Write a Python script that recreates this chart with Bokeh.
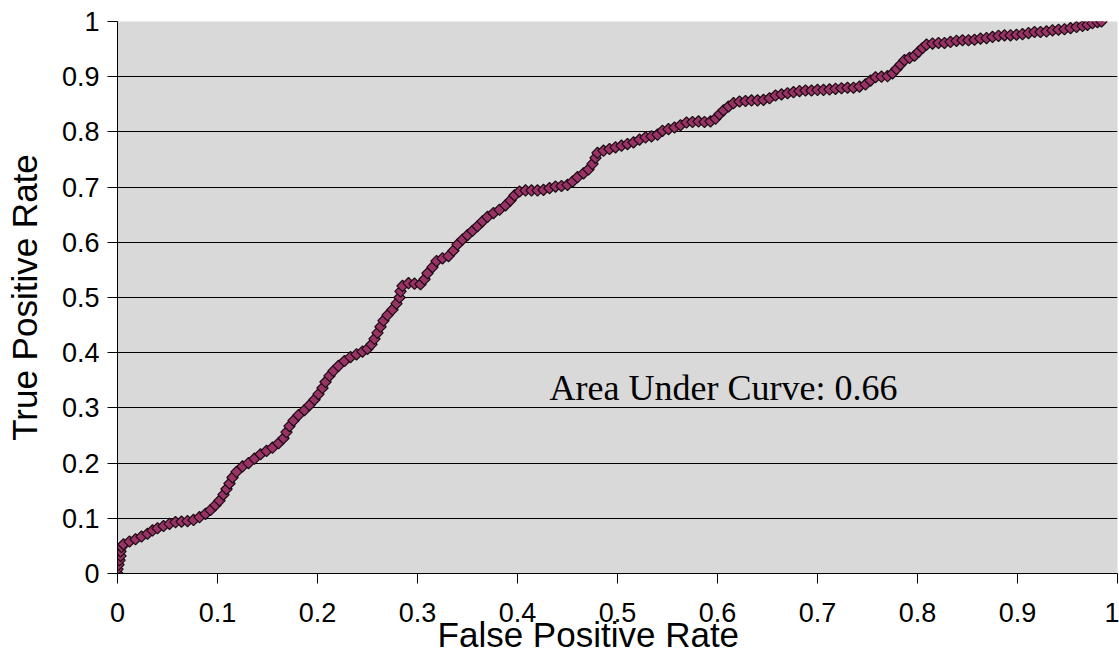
import math
from bokeh.plotting import figure
from bokeh.models import FixedTicker, Label, ColumnDataSource
from bokeh.embed import file_html
from bokeh.resources import INLINE

# ---- data ----
fpr = [0, 0, 0.001, 0.002, 0.003, 0.003, 0.004, 0.006,
       0.012, 0.018, 0.024, 0.03, 0.035, 0.04, 0.046, 0.052, 0.058, 0.064, 0.07, 0.076,
       0.082, 0.088, 0.093, 0.098, 0.102, 0.106, 0.109, 0.112, 0.115, 0.119, 0.125,
       0.131, 0.137, 0.143, 0.149, 0.155, 0.161, 0.166, 0.169, 0.172, 0.176, 0.181,
       0.187, 0.192, 0.197, 0.201, 0.205, 0.208, 0.212, 0.216, 0.221, 0.227, 0.233,
       0.239, 0.245, 0.25, 0.254, 0.257, 0.26, 0.263, 0.266, 0.27, 0.275, 0.279,
       0.282, 0.283, 0.285, 0.291, 0.297, 0.303, 0.307, 0.31, 0.315, 0.319, 0.325,
       0.331, 0.336, 0.34, 0.345, 0.35, 0.355, 0.36, 0.365, 0.37, 0.376, 0.382,
       0.388, 0.393, 0.397, 0.402, 0.408, 0.414, 0.42, 0.426, 0.432, 0.438, 0.444,
       0.45, 0.455, 0.46, 0.466, 0.471, 0.475, 0.478, 0.48, 0.486, 0.492, 0.498,
       0.504, 0.51, 0.516, 0.522, 0.528, 0.534, 0.54, 0.545, 0.551, 0.557, 0.563,
       0.569, 0.575, 0.581, 0.587, 0.593, 0.598, 0.602, 0.606, 0.611, 0.616, 0.622,
       0.628, 0.634, 0.64, 0.646, 0.652, 0.658, 0.664, 0.67, 0.676, 0.682, 0.688,
       0.694, 0.7, 0.706, 0.712, 0.718, 0.724, 0.73, 0.736, 0.742, 0.748, 0.753,
       0.758, 0.764, 0.77, 0.775, 0.779, 0.783, 0.787, 0.792, 0.797, 0.801, 0.805,
       0.809, 0.815, 0.821, 0.827, 0.833, 0.839, 0.845, 0.851, 0.857, 0.863, 0.869,
       0.875, 0.881, 0.887, 0.893, 0.899, 0.905, 0.911, 0.917, 0.923, 0.929, 0.935,
       0.941, 0.947, 0.953, 0.959, 0.965, 0.97, 0.975, 0.98, 0.984]
tpr = [0, 0.008, 0.016, 0.024, 0.032, 0.04, 0.048, 0.053,
       0.058, 0.062, 0.067, 0.072, 0.078, 0.082, 0.086, 0.09, 0.093, 0.094, 0.095, 0.097,
       0.102, 0.108, 0.115, 0.124, 0.132, 0.143, 0.153, 0.163, 0.174, 0.184, 0.194,
       0.2, 0.208, 0.216, 0.222, 0.228, 0.236, 0.245, 0.256, 0.267, 0.277, 0.287,
       0.296, 0.305, 0.315, 0.325, 0.336, 0.347, 0.358, 0.367, 0.376, 0.385, 0.392,
       0.397, 0.402, 0.407, 0.415, 0.425, 0.436, 0.447, 0.458, 0.468, 0.478, 0.489,
       0.5, 0.511, 0.521, 0.526, 0.525, 0.524, 0.533, 0.544, 0.555, 0.566, 0.571,
       0.575, 0.585, 0.596, 0.605, 0.613, 0.621, 0.629, 0.638, 0.646, 0.653, 0.659,
       0.667, 0.676, 0.685, 0.692, 0.694, 0.694, 0.694, 0.695, 0.698, 0.701, 0.702,
       0.704, 0.71, 0.718, 0.725, 0.732, 0.742, 0.753, 0.762, 0.766, 0.769, 0.772,
       0.775, 0.778, 0.781, 0.786, 0.79, 0.792, 0.795, 0.802, 0.805, 0.808, 0.812,
       0.817, 0.818, 0.819, 0.818, 0.819, 0.824, 0.832, 0.839, 0.846, 0.852, 0.855,
       0.856, 0.857, 0.857, 0.858, 0.861, 0.866, 0.868, 0.87, 0.872, 0.874, 0.875,
       0.875, 0.876, 0.876, 0.877, 0.878, 0.879, 0.88, 0.88, 0.882, 0.886, 0.893,
       0.899, 0.9, 0.901, 0.906, 0.914, 0.922, 0.93, 0.934, 0.938, 0.945, 0.952,
       0.958, 0.96, 0.961, 0.961, 0.963, 0.965, 0.966, 0.966, 0.967, 0.969, 0.97,
       0.972, 0.974, 0.975, 0.975, 0.976, 0.977, 0.979, 0.981, 0.981, 0.982, 0.984,
       0.985, 0.986, 0.988, 0.99, 0.992, 0.994, 0.997, 0.999, 1.0]

tick_values = [0, 0.1, 0.2, 0.3, 0.4, 0.5, 0.6, 0.7, 0.8, 0.9, 1]
tick_labels = ["0", "0.1", "0.2", "0.3", "0.4", "0.5", "0.6", "0.7", "0.8", "0.9", "1"]
x_title = "False Positive Rate"
y_title = "True Positive Rate"
auc_text = "Area Under Curve: 0.66"
auc_pos = (0.432, 0.336)

p = figure(width=1119, height=656, output_backend="svg", toolbar_location=None,
           x_range=(0, 1), y_range=(0, 1),
           min_border_left=117, min_border_right=2, min_border_top=21, min_border_bottom=81,
           background_fill_color="#D9D9D9", border_fill_color="white")
p.outline_line_color = None

src = ColumnDataSource(dict(x=fpr, y=tpr))
p.scatter("x", "y", source=src, marker="square", size=8, angle=math.pi / 4,
          fill_color="#993366", line_color="#1a0a12", line_width=1.2)

overrides = {v: l for v, l in zip(tick_values, tick_labels)}
for ax in (p.xaxis[0], p.yaxis[0]):
    ax.ticker = FixedTicker(ticks=tick_values)
    ax.major_label_overrides = overrides
    ax.minor_tick_line_color = None
    ax.axis_line_color = "black"
    ax.major_tick_line_color = "black"
    ax.major_tick_in = 0
    ax.major_tick_out = 10
    ax.major_label_text_font = "Liberation Sans"
    ax.major_label_text_font_size = "27px"
    ax.major_label_text_color = "black"
    ax.axis_label_text_font = "Liberation Sans"
    ax.axis_label_text_font_size = "35px"
    ax.axis_label_text_font_style = "normal"
    ax.axis_label_text_color = "black"

# trailing no-break spaces shift the centred title a little left, as in the reference
p.xaxis.axis_label = x_title + "\u00a0" * 6
p.yaxis.axis_label = y_title
p.xaxis.major_label_standoff = 19
p.xaxis.axis_label_standoff = -10
p.yaxis.major_label_standoff = 8
p.yaxis.axis_label_standoff = 15

p.xgrid.grid_line_color = None
p.ygrid.grid_line_color = "black"
p.ygrid.grid_line_width = 1
p.ygrid.ticker = FixedTicker(ticks=tick_values)

p.add_layout(Label(x=auc_pos[0], y=auc_pos[1], text=auc_text,
                   text_font="Liberation Serif", text_font_size="36px",
                   text_color="black", text_baseline="alphabetic"))

open("out.html", "w").write(file_html(p, INLINE))
